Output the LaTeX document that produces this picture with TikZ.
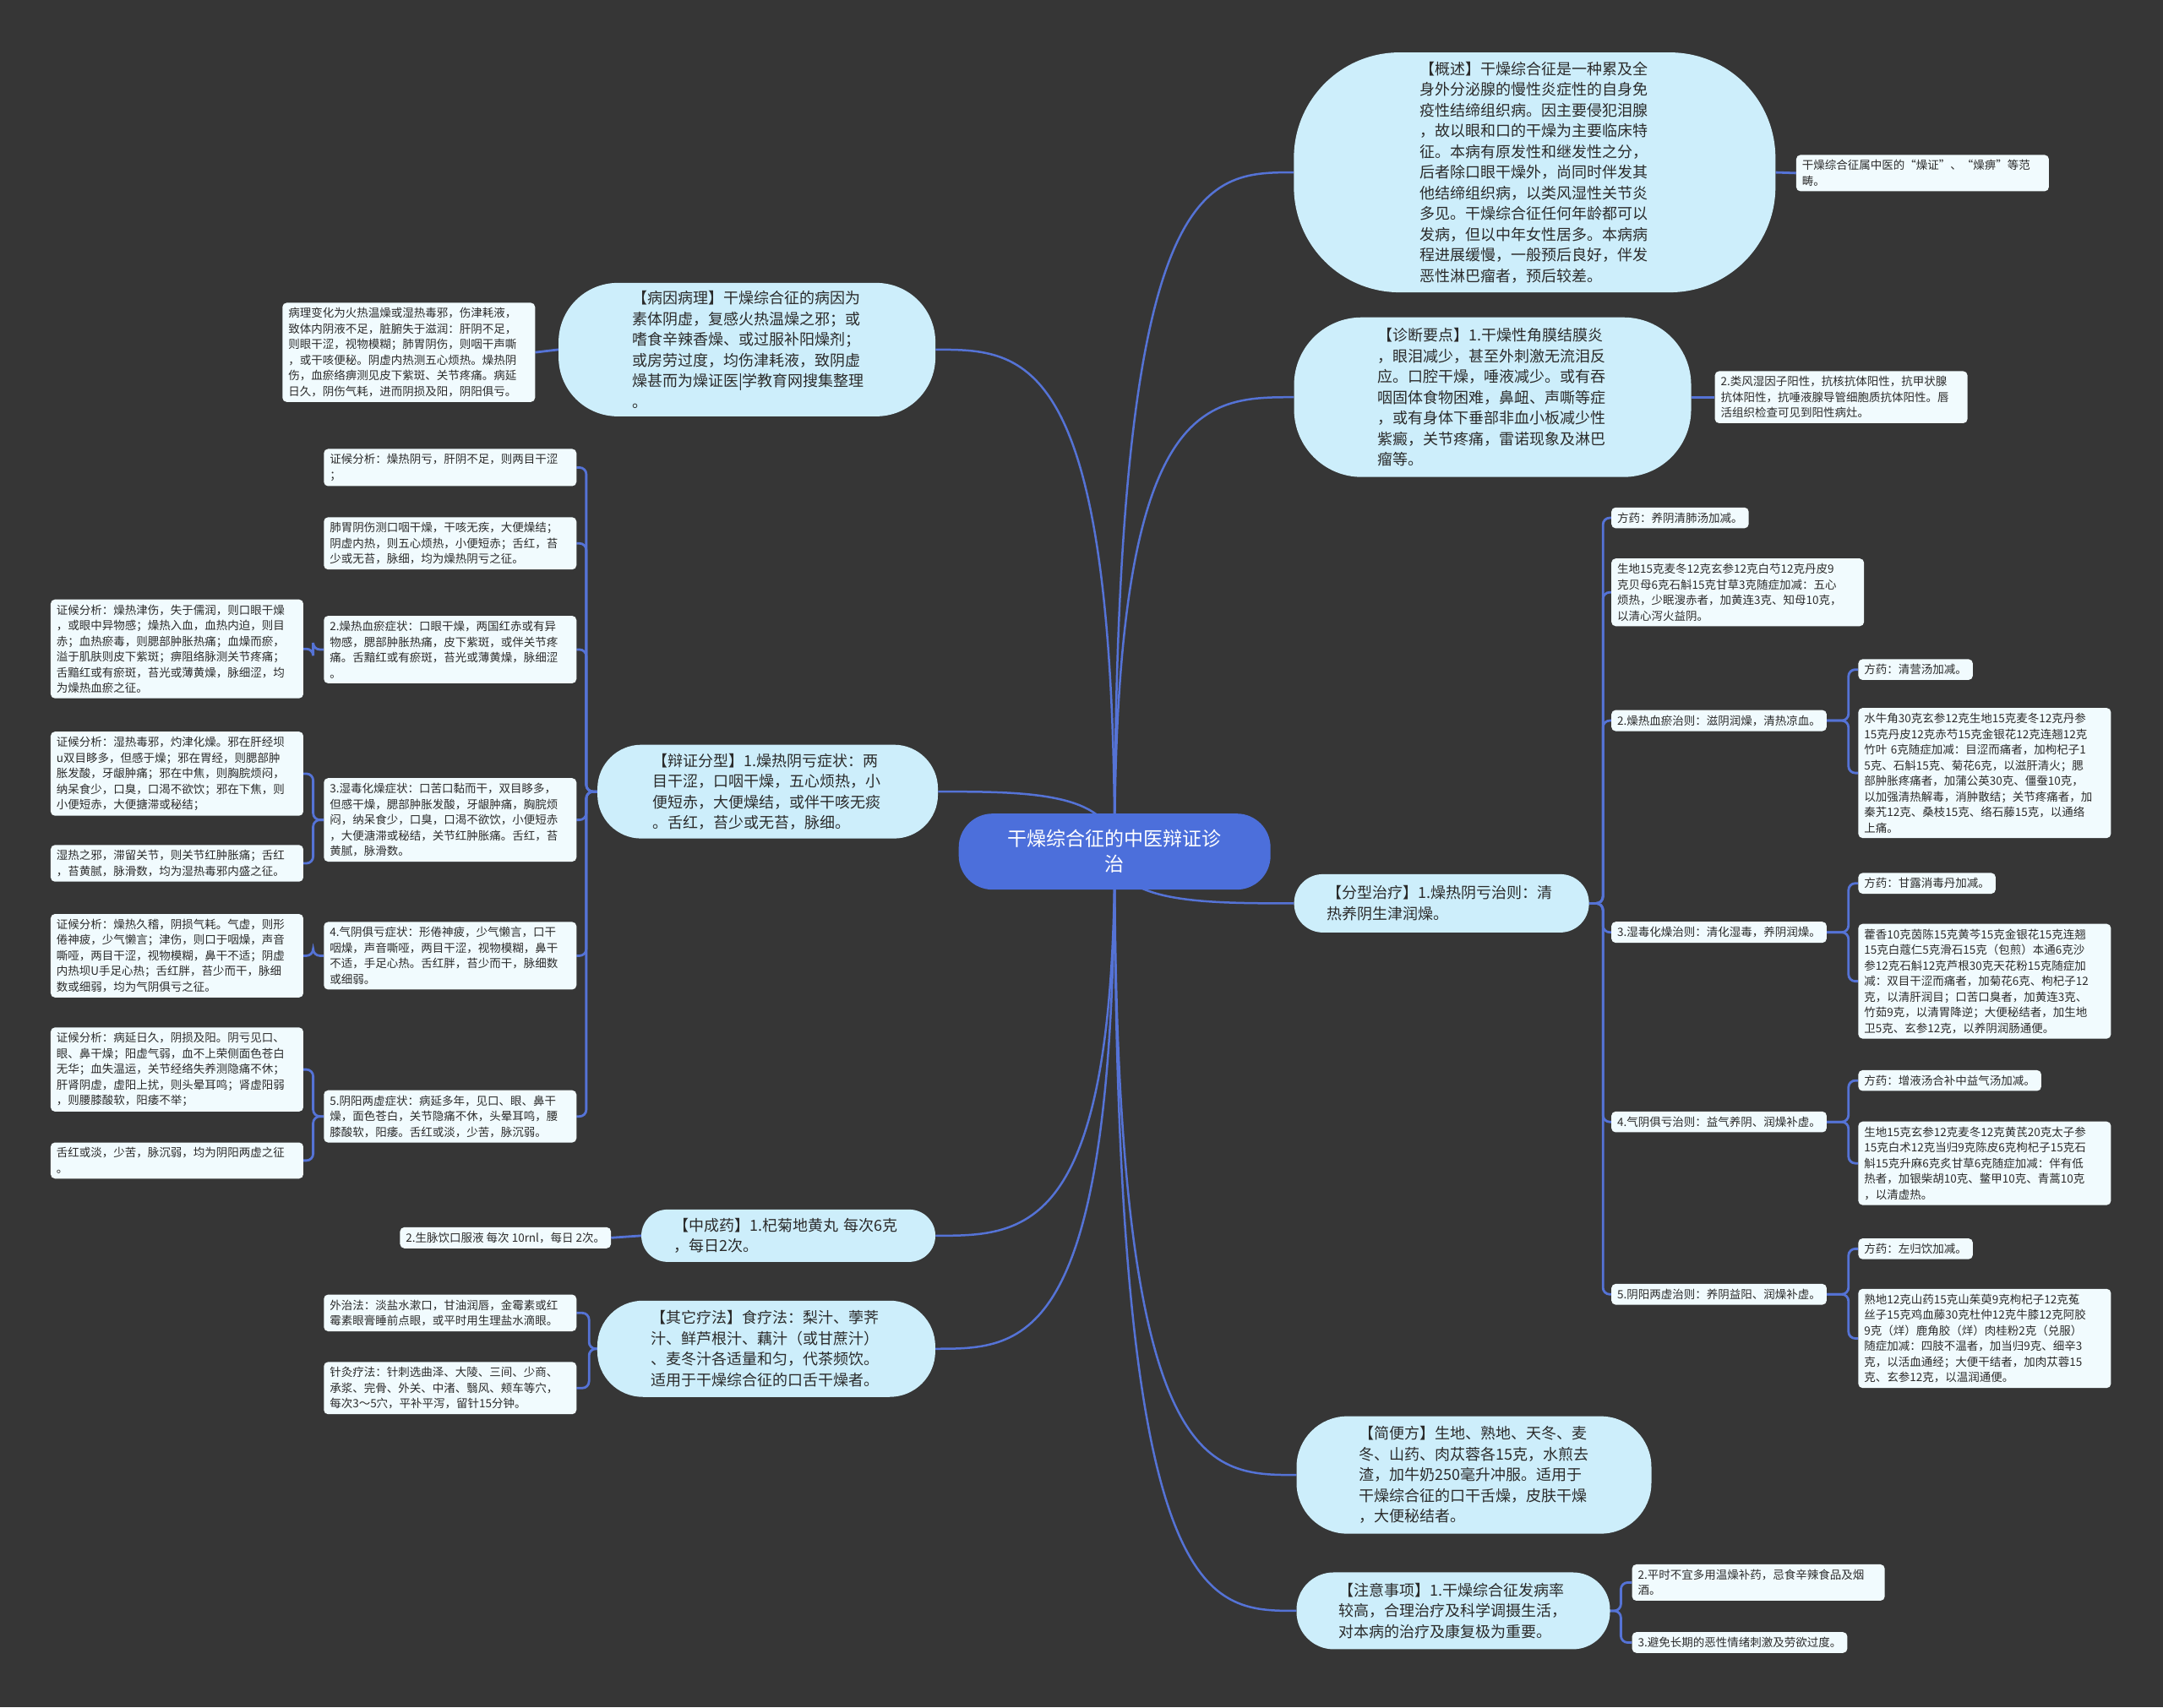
\documentclass[tikz,border=0pt]{standalone}
\usepackage{fontspec}
\setmainfont{Noto Sans CJK SC}
\usetikzlibrary{calc}
\definecolor{bgc}{HTML}{363636}
\definecolor{lvlfill}{HTML}{CDEEFB}
\definecolor{boxfill}{HTML}{F1FBFE}
\definecolor{cenfill}{HTML}{4C6FDB}
\definecolor{linkc}{HTML}{5573D6}
\definecolor{txt}{HTML}{2B2B2B}
\pgfdeclarelayer{bglayer}\pgfdeclarelayer{edgelayer}
\pgfsetlayers{bglayer,edgelayer,main}
\tikzset{
 smallbox/.style={fill=boxfill, rounded corners=5pt, text=txt, font=\fontsize{13.5}{18.5}\selectfont, align=left, inner xsep=7pt, inner ysep=6pt},
 wide/.style={text width=285pt},
 lvl/.style={fill=lvlfill, text=txt, font=\fontsize{18}{24.5}\selectfont, align=left, text width=272pt, inner sep=0pt},
 link/.style={draw=linkc, line width=2.5pt},
 brk/.style={draw=linkc, line width=2.8pt, rounded corners=8pt},
}
\begin{document}
\begin{tikzpicture}[x=1.6327pt,y=-1.6327pt]
\begin{pgfonlayer}{bglayer}
\fill[bgc] (0,0) rectangle (1568,1238);
\end{pgfonlayer}
\useasboundingbox (0,0) rectangle (1568,1238);

% central
\node[fill=cenfill, text=white, font=\fontsize{23}{30}\selectfont, align=center, minimum width=369pt, minimum height=90pt, rounded corners=40pt, inner sep=0pt] (c) at (808,617.5) {干燥综合征的中医辩证诊\\治};

% right level-1
\node[lvl, minimum width=570pt, minimum height=284pt, rounded corners=125pt] (gs) at (1112.5,125) {【概述】干燥综合征是一种累及全\\身外分泌腺的慢性炎症性的自身免\\疫性结缔组织病。因主要侵犯泪腺\\，故以眼和口的干燥为主要临床特\\征。本病有原发性和继发性之分，\\后者除口眼干燥外，尚同时伴发其\\他结缔组织病，以类风湿性关节炎\\多见。干燥综合征任何年龄都可以\\发病，但以中年女性居多。本病病\\程进展缓慢，一般预后良好，伴发\\恶性淋巴瘤者，预后较差。};
\node[lvl, minimum width=470pt, minimum height=189pt, rounded corners=80pt] (zd) at (1082,288) {【诊断要点】1.干燥性角膜结膜炎\\，眼泪减少，甚至外刺激无流泪反\\应。口腔干燥，唾液减少。或有吞\\咽固体食物困难，鼻衄、声嘶等症\\，或有身体下垂部非血小板减少性\\紫癜，关节疼痛，雷诺现象及淋巴\\瘤等。};
\node[lvl, minimum width=349pt, minimum height=69pt, rounded corners=34pt] (fx) at (1045,655) {【分型治疗】1.燥热阴亏治则：清\\热养阴生津润燥。};
\node[lvl, minimum width=420pt, minimum height=139pt, rounded corners=60pt] (jb) at (1068.5,1069.5) {【简便方】生地、熟地、天冬、麦\\冬、山药、肉苁蓉各15克，水煎去\\渣，加牛奶250毫升冲服。适用于\\干燥综合征的口干舌燥，皮肤干燥\\，大便秘结者。};
\node[lvl, minimum width=371pt, minimum height=91pt, rounded corners=44pt] (zy) at (1053.5,1168) {【注意事项】1.干燥综合征发病率\\较高，合理治疗及科学调摄生活，\\对本病的治疗及康复极为重要。};

% left level-1
\node[lvl, minimum width=446pt, minimum height=158pt, rounded corners=70pt] (by) at (541.5,253.5) {【病因病理】干燥综合征的病因为\\素体阴虚，复感火热温燥之邪；或\\嗜食辛辣香燥、或过服补阳燥剂；\\或房劳过度，均伤津耗液，致阴虚\\燥甚而为燥证医|学教育网搜集整理\\。};
\node[lvl, minimum width=403pt, minimum height=111pt, rounded corners=52pt] (bz) at (556.5,574) {【辩证分型】1.燥热阴亏症状：两\\目干涩，口咽干燥，五心烦热，小\\便短赤，大便燥结，或伴干咳无痰\\。舌红，苔少或无苔，脉细。};
\node[lvl, minimum width=348pt, minimum height=62pt, rounded corners=31pt] (zc) at (571.5,896) {【中成药】1.杞菊地黄丸 每次6克\\，每日2次。};
\node[lvl, minimum width=400pt, minimum height=114pt, rounded corners=54pt] (qt) at (555.5,978) {【其它疗法】食疗法：梨汁、荸荠\\汁、鲜芦根汁、藕汁（或甘蔗汁）\\、麦冬汁各适量和匀，代茶频饮。\\适用于干燥综合征的口舌干燥者。};

% right small boxes
\node[smallbox, wide, anchor=west] (gs1) at (1302,125.5) {干燥综合征属中医的“燥证”、“燥痹”等范\\畴。};
\node[smallbox, wide, anchor=west] (zd1) at (1243,288) {2.类风湿因子阳性，抗核抗体阳性，抗甲状腺\\抗体阳性，抗唾液腺导管细胞质抗体阳性。唇\\活组织检查可见到阳性病灶。};

\node[smallbox, anchor=west] (fy1) at (1168,375.5) {方药：养阴清肺汤加减。};
\node[smallbox, wide, anchor=west] (fy1b) at (1168,429.5) {生地15克麦冬12克玄参12克白芍12克丹皮9\\克贝母6克石斛15克甘草3克随症加减：五心\\烦热，少眠溲赤者，加黄连3克、知母10克，\\以清心泻火益阴。};
\node[smallbox, anchor=west] (zl2) at (1168,522.5) {2.燥热血瘀治则：滋阴润燥，清热凉血。};
\node[smallbox, anchor=west] (fy2) at (1347,485.5) {方药：清营汤加减。};
\node[smallbox, wide, anchor=west] (fy2b) at (1347,560.5) {水牛角30克玄参12克生地15克麦冬12克丹参\\15克丹皮12克赤芍15克金银花12克连翘12克\\竹叶 6克随症加减：目涩而痛者，加枸杞子1\\5克、石斛15克、菊花6克，以滋肝清火；腮\\部肿胀疼痛者，加蒲公英30克、僵蚕10克，\\以加强清热解毒，消肿散结；关节疼痛者，加\\秦艽12克、桑枝15克、络石藤15克，以通络\\上痛。};
\node[smallbox, anchor=west] (zl3) at (1168,676) {3.湿毒化燥治则：清化湿毒，养阴润燥。};
\node[smallbox, anchor=west] (fy3) at (1347,640.5) {方药：甘露消毒丹加减。};
\node[smallbox, wide, anchor=west] (fy3b) at (1347,711.5) {藿香10克茵陈15克黄芩15克金银花15克连翘\\15克白蔻仁5克滑石15克（包煎）本通6克沙\\参12克石斛12克芦根30克天花粉15克随症加\\减：双目干涩而痛者，加菊花6克、枸杞子12\\克，以清肝润目；口苦口臭者，加黄连3克、\\竹茹9克，以清胃降逆；大便秘结者，加生地\\卫5克、玄参12克，以养阴润肠通便。};
\node[smallbox, anchor=west] (zl4) at (1168,813.5) {4.气阴俱亏治则：益气养阴、润燥补虚。};
\node[smallbox, anchor=west] (fy4) at (1347,783.5) {方药：增液汤合补中益气汤加减。};
\node[smallbox, wide, anchor=west] (fy4b) at (1347,843.5) {生地15克玄参12克麦冬12克黄芪20克太子参\\15克白术12克当归9克陈皮6克枸杞子15克石\\斛15克升麻6克炙甘草6克随症加减：伴有低\\热者，加银柴胡10克、鳖甲10克、青蒿10克\\，以清虚热。};
\node[smallbox, anchor=west] (zl5) at (1168,938.5) {5.阴阳两虚治则：养阴益阳、润燥补虚。};
\node[smallbox, anchor=west] (fy5) at (1347,905.5) {方药：左归饮加减。};
\node[smallbox, wide, anchor=west] (fy5b) at (1347,970.5) {熟地12克山药15克山茱萸9克枸杞子12克菟\\丝子15克鸡血藤30克杜仲12克牛膝12克阿胶\\9克（烊）鹿角胶（烊）肉桂粉2克（兑服）\\随症加减：四肢不温者，加当归9克、细辛3\\克，以活血通经；大便干结者，加肉苁蓉15\\克、玄参12克，以温润通便。};
\node[smallbox, wide, anchor=west] (zy2) at (1183,1147.5) {2.平时不宜多用温燥补药，忌食辛辣食品及烟\\酒。};
\node[smallbox, anchor=west] (zy3) at (1183,1191) {3.避免长期的恶性情绪刺激及劳欲过度。};

% left small boxes
\node[smallbox, wide, anchor=east] (by1) at (388,255.5) {病理变化为火热温燥或湿热毒邪，伤津耗液，\\致体内阴液不足，脏腑失于滋润：肝阴不足，\\则眼干涩，视物模糊；肺胃阴伤，则咽干声嘶\\，或干咳便秘。阴虚内热测五心烦热。燥热阴\\伤，血瘀络痹测见皮下紫斑、关节疼痛。病延\\日久，阴伤气耗，进而阴损及阳，阴阳俱亏。};
\node[smallbox, wide, anchor=east] (bz1a) at (418,339) {证候分析：燥热阴亏，肝阴不足，则两目干涩\\；};
\node[smallbox, wide, anchor=east] (bz1b) at (418,394) {肺胃阴伤测口咽干燥，干咳无疾，大便燥结；\\阴虚内热，则五心烦热，小便短赤；舌红，苔\\少或无苔，脉细，均为燥热阴亏之征。};
\node[smallbox, wide, anchor=east] (bz2) at (418,471) {2.燥热血瘀症状：口眼干燥，两国红赤或有异\\物感，腮部肿胀热痛，皮下紫斑，或伴关节疼\\痛。舌黯红或有瘀斑，苔光或薄黄燥，脉细涩\\。};
\node[smallbox, wide, anchor=east] (bz2a) at (220,470.5) {证候分析：燥热津伤，失于儒润，则口眼干燥\\，或眼中异物感；燥热入血，血热内迫，则目\\赤；血热瘀毒，则腮部肿胀热痛；血燥而瘀，\\溢于肌肤则皮下紫斑；痹阻络脉测关节疼痛；\\舌黯红或有瘀斑，苔光或薄黄燥，脉细涩，均\\为燥热血瘀之征。};
\node[smallbox, wide, anchor=east] (bz3) at (418,594.5) {3.湿毒化燥症状：口苦口黏而干，双目眵多，\\但感干燥，腮部肿胀发酸，牙龈肿痛，胸脘烦\\闷，纳呆食少，口臭，口渴不欲饮，小便短赤\\，大便溏滞或秘结，关节红肿胀痛。舌红，苔\\黄腻，脉滑数。};
\node[smallbox, wide, anchor=east] (bz3a) at (220,561) {证候分析：湿热毒邪，灼津化燥。邪在肝经坝\\u双目眵多，但感于燥；邪在胃经，则腮部肿\\胀发酸，牙龈肿痛；邪在中焦，则胸脘烦闷，\\纳呆食少，口臭，口渴不欲饮；邪在下焦，则\\小便短赤，大便搪滞或秘结；};
\node[smallbox, wide, anchor=east] (bz3b) at (220,626) {湿热之邪，滞留关节，则关节红肿胀痛；舌红\\，苔黄腻，脉滑数，均为湿热毒邪内盛之征。};
\node[smallbox, wide, anchor=east] (bz4) at (418,693) {4.气阴俱亏症状：形倦神疲，少气懒言，口干\\咽燥，声音嘶哑，两目干涩，视物模糊，鼻干\\不适，手足心热。舌红胖，苔少而干，脉细数\\或细弱。};
\node[smallbox, wide, anchor=east] (bz4a) at (220,693) {证候分析：燥热久稽，阴损气耗。气虚，则形\\倦神疲，少气懒言；津伤，则口于咽燥，声音\\嘶哑，两目干涩，视物模糊，鼻干不适；阴虚\\内热坝U手足心热；舌红胖，苔少而干，脉细\\数或细弱，均为气阴俱亏之征。};
\node[smallbox, wide, anchor=east] (bz5) at (418,809.5) {5.阴阳两虚症状：病延多年，见口、眼、鼻干\\燥，面色苍白，关节隐痛不休，头晕耳鸣，腰\\膝酸软，阳痿。舌红或淡，少苦，脉沉弱。};
\node[smallbox, wide, anchor=east] (bz5a) at (220,775.5) {证候分析：病延日久，阴损及阳。阴亏见口、\\眼、鼻干燥；阳虚气弱，血不上荣侧面色苍白\\无华；血失温运，关节经络失养测隐痛不休；\\肝肾阴虚，虚阳上扰，则头晕耳鸣；肾虚阳弱\\，则腰膝酸软，阳痿不举；};
\node[smallbox, wide, anchor=east] (bz5b) at (220,841.5) {舌红或淡，少苦，脉沉弱，均为阴阳两虚之征\\。};
\node[smallbox, anchor=east] (zc2) at (443,897.5) {2.生脉饮口服液 每次 10rnl，每日 2次。};
\node[smallbox, wide, anchor=east] (qt1) at (418,952) {外治法：淡盐水漱口，甘油润唇，金霉素或红\\霉素眼膏睡前点眼，或平时用生理盐水滴眼。};
\node[smallbox, wide, anchor=east] (qt2) at (418,1006.5) {针灸疗法：针刺选曲泽、大陵、三间、少商、\\承浆、完骨、外关、中渚、翳风、颊车等穴，\\每次3～5穴，平补平泻，留针15分钟。};

\begin{pgfonlayer}{edgelayer}
% central links, right
\foreach \t in {gs,zd,fx,jb,zy}{
 \draw[link] (c.center) .. controls (c.center |- \t.west) and ($(c.center |- \t.west)!0.5!(\t.west)$) .. (\t.west);
}
% central links, left
\foreach \t in {by,bz,zc,qt}{
 \draw[link] (c.center) .. controls (c.center |- \t.east) and ($(c.center |- \t.east)!0.5!(\t.east)$) .. (\t.east);
}
% right brackets
\draw[brk] (gs.east) -- (gs1.west);
\draw[brk] (zd.east) -- (zd1.west);
\foreach \t in {fy1,fy1b,zl2,zl3,zl4,zl5}{
 \draw[brk] (fx.east) -| ($(\t.west)+(-6,0)$) -- (\t.west);
}
\foreach \p/\t in {zl2/fy2,zl2/fy2b,zl3/fy3,zl3/fy3b,zl4/fy4,zl4/fy4b,zl5/fy5,zl5/fy5b}{
 \draw[brk] (\p.east) -| ($(\t.west)+(-7,0)$) -- (\t.west);
}
\foreach \t in {zy2,zy3}{
 \draw[brk] (zy.east) -| ($(\t.west)+(-8,0)$) -- (\t.west);
}
% left brackets
\draw[brk] (by.west) -- (by1.east);
\foreach \t in {bz1a,bz1b,bz2,bz3,bz4,bz5}{
 \draw[brk] (bz.west) -| ($(\t.east)+(7,0)$) -- (\t.east);
}
\foreach \p/\t in {bz2/bz2a,bz3/bz3a,bz3/bz3b,bz4/bz4a,bz5/bz5a,bz5/bz5b}{
 \draw[brk] (\p.west) -| ($(\t.east)+(7,0)$) -- (\t.east);
}
\draw[brk] (zc.west) -- (zc2.east);
\foreach \t in {qt1,qt2}{
 \draw[brk] (qt.west) -| ($(\t.east)+(9,0)$) -- (\t.east);
}
\end{pgfonlayer}
\end{tikzpicture}
\end{document}
